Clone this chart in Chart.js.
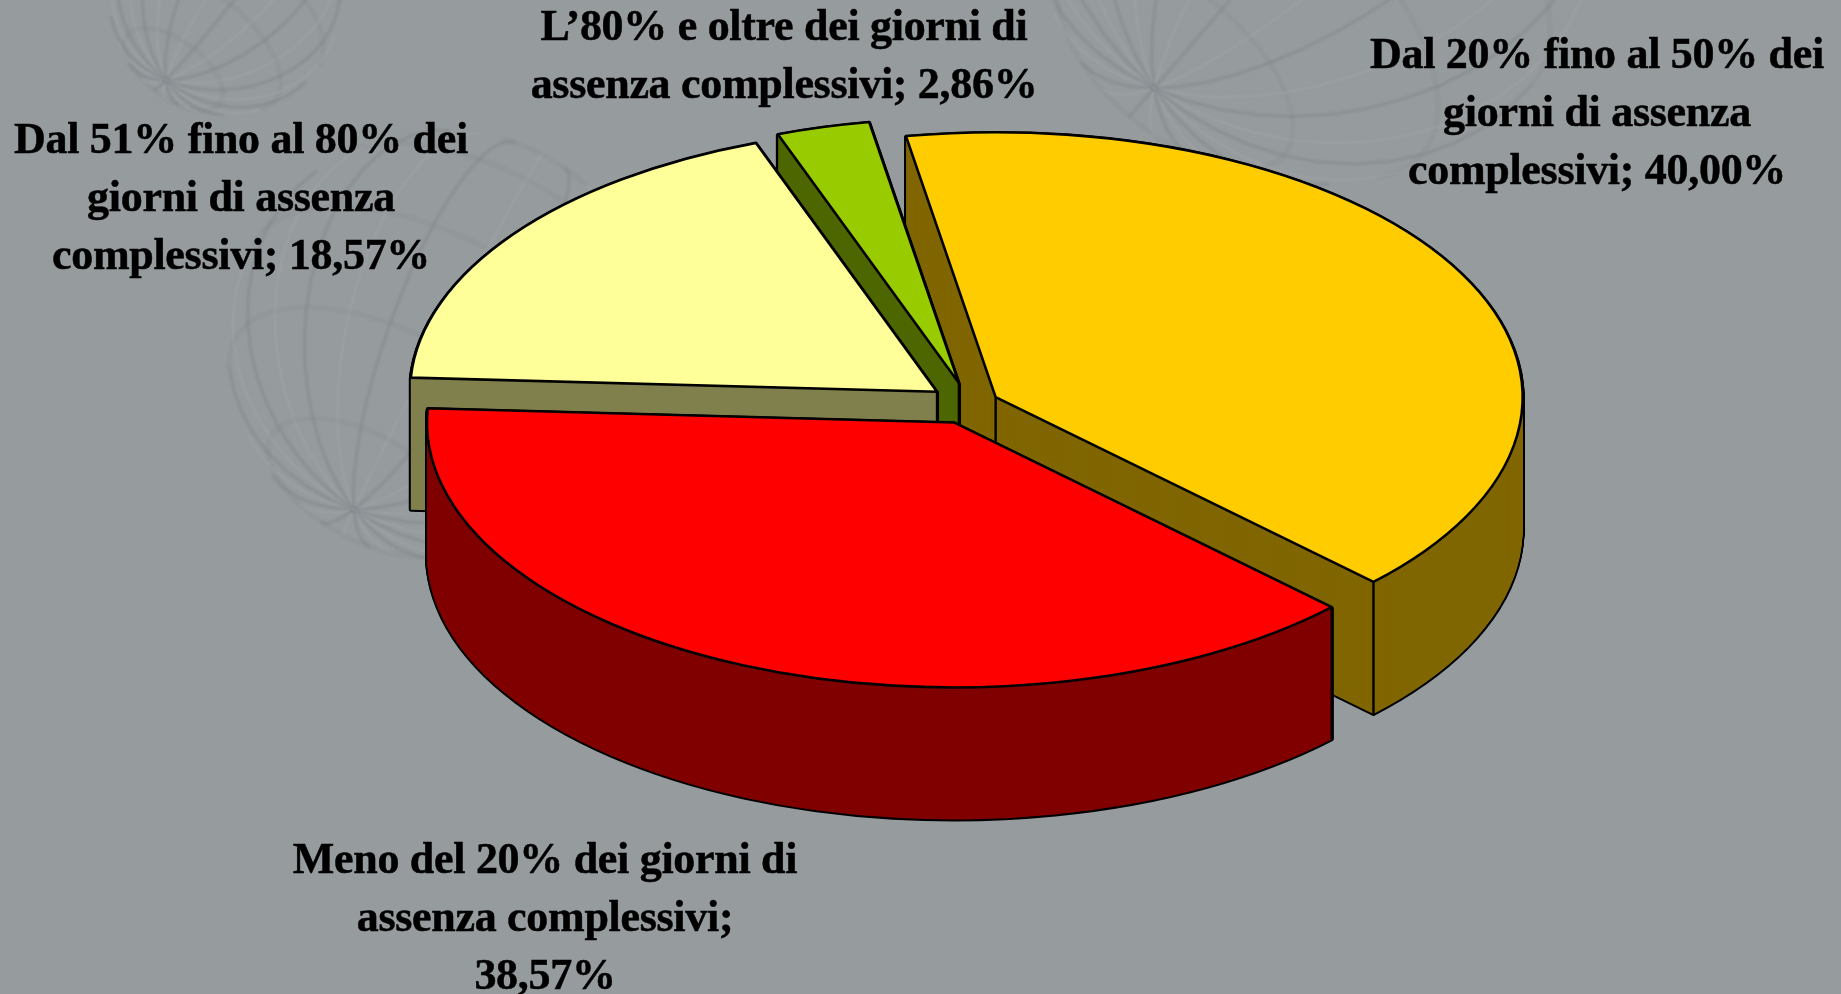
<!DOCTYPE html>
<html>
<head>
<meta charset="utf-8">
<title>Giorni di assenza</title>
<script src="https://cdn.jsdelivr.net/npm/chart.js@4"></script>
<style>
  html, body { margin: 0; padding: 0; background: #969b9e; overflow: hidden; }
  canvas { display: block; }
</style>
</head>
<body>
<canvas id="myChart" width="1841" height="994"></canvas>
<script>
// Chart data, clockwise from the top
const categories = [
    'Dal 20% fino al 50% dei giorni di assenza complessivi',
    'Meno del 20% dei giorni di assenza complessivi',
    'Dal 51% fino al 80% dei giorni di assenza complessivi',
    "L'80% e oltre dei giorni di assenza complessivi"
];
const values = [40.00, 38.57, 18.57, 2.86];
const topColors = ['#ffcc00', '#ff0000', '#ffff99', '#99cc00'];
const sideColors = ['#806600', '#800000', '#80804d', '#4d6600'];
const explode = [29, 40, 41, 43]; // how far each slice is pulled out

const labelLines = [
    ['Dal 20% fino al 50% dei', 'giorni di assenza', 'complessivi; 40,00%'],
    ['Meno del 20% dei giorni di', 'assenza complessivi;', '38,57%'],
    ['Dal 51% fino al 80% dei', 'giorni di assenza', 'complessivi; 18,57%'],
    ['L\u201980% e oltre dei giorni di', 'assenza complessivi; 2,86%']
];
const labelCenterX = [1597, 545, 241, 784];
const labelFirstBaseline = [68, 873, 153, 40];

// 3D look of the pie
const RX = 527;
const RY = 265;
const DEPTH = 132;
const DRAW_ORDER = [0, 3, 2, 1]; // back to front

// faint wireframe balls behind the chart: x, y, radius, tilt
const globes = [
    [225, 0, 115, 0.8],
    [443, 345, 215, 0.7],
    [1315, -100, 285, 0.85]
];

function sphereLine(ctx, x, y, r, tilt, pointAt) {
    ctx.beginPath();
    let pen = false;
    for (let t = 0; t <= 48; t++) {
        const p = pointAt(t / 48 * Math.PI * 2);
        // tilt the ball, then keep only the side facing us
        const y1 = p[1] * Math.cos(tilt) - p[2] * Math.sin(tilt);
        const z1 = p[1] * Math.sin(tilt) + p[2] * Math.cos(tilt);
        const x2 = p[0] * Math.cos(tilt) - z1 * Math.sin(tilt);
        const z2 = p[0] * Math.sin(tilt) + z1 * Math.cos(tilt);
        if (z2 < -0.05) { pen = false; continue; }
        if (pen) ctx.lineTo(x + x2 * r, y + y1 * r);
        else ctx.moveTo(x + x2 * r, y + y1 * r);
        pen = true;
    }
    ctx.stroke();
}

function drawGlobe(ctx, globe, stroke, width, shift) {
    const [x, y, r, tilt] = globe;
    ctx.strokeStyle = stroke;
    ctx.lineWidth = width;
    for (let lat = -60; lat <= 60; lat += 30) {
        const a = lat * Math.PI / 180;
        sphereLine(ctx, x, y, r, tilt, t => [Math.cos(a) * Math.cos(t), Math.sin(a), Math.cos(a) * Math.sin(t)]);
    }
    for (let lon = shift; lon < 180 + shift; lon += 30) {
        const b = lon * Math.PI / 180;
        sphereLine(ctx, x, y, r, tilt, t => [Math.cos(t) * Math.cos(b), Math.sin(t), Math.cos(t) * Math.sin(b)]);
    }
}

const backgroundPlugin = {
    id: 'background',
    beforeDraw(chart) {
        const ctx = chart.ctx;
        ctx.save();
        ctx.fillStyle = '#969b9e';
        ctx.fillRect(0, 0, chart.width, chart.height);
        ctx.filter = 'blur(1px)';
        globes.forEach(g => {
            drawGlobe(ctx, g, 'rgba(70,75,80,0.13)', 3, 0);
            drawGlobe(ctx, g, 'rgba(225,230,235,0.10)', 2, 14);
        });
        ctx.restore();
    }
};

// Draws one arc through its own draw() but squashed into an ellipse
function paintArc(ctx, arc, i, drop, color, borderColor, borderWidth) {
    const mid = (arc.startAngle + arc.endAngle) / 2;
    const sx = RX / arc.outerRadius;
    const sy = RY / arc.outerRadius;
    const saved = arc.options;
    arc.options = Object.assign(Object.create(saved), {
        backgroundColor: color,
        borderColor: borderColor,
        borderWidth: borderWidth,
        borderJoinStyle: 'round'
    });
    ctx.save();
    ctx.translate(arc.x + Math.cos(mid) * explode[i], arc.y + Math.sin(mid) * explode[i] * sy / sx + drop);
    ctx.scale(sx, sy);
    ctx.translate(-arc.x, -arc.y);
    arc.draw(ctx);
    ctx.restore();
    arc.options = saved;
}

// Vertical edges of the walls: the centre, and rim ends on the front half
function drawEdges(ctx, arc, i) {
    const mid = (arc.startAngle + arc.endAngle) / 2;
    const cx = arc.x + Math.cos(mid) * explode[i];
    const cy = arc.y + Math.sin(mid) * explode[i] * RY / RX;
    const corners = [[cx, cy]];
    [arc.startAngle, arc.endAngle].forEach(a => {
        if (Math.sin(a) > 0) corners.push([cx + Math.cos(a) * RX, cy + Math.sin(a) * RY]);
    });
    ctx.strokeStyle = '#000';
    ctx.lineWidth = 2.4;
    corners.forEach(c => {
        ctx.beginPath();
        ctx.moveTo(c[0], c[1]);
        ctx.lineTo(c[0], c[1] + DEPTH);
        ctx.stroke();
    });
}

const pie3dPlugin = {
    id: 'pie3d',
    beforeDatasetsDraw(chart) {
        const ctx = chart.ctx;
        const arcs = chart.getDatasetMeta(0).data;
        // keep line width even although the drawing is squashed
        const rawStroke = ctx.stroke;
        ctx.stroke = function () {
            this.save();
            this.setTransform(1, 0, 0, 1, 0, 0);
            rawStroke.call(this);
            this.restore();
        };
        DRAW_ORDER.forEach(i => {
            const arc = arcs[i];
            for (let y = DEPTH; y > 0; y--) paintArc(ctx, arc, i, y, '#000', '#000', 4);
            for (let y = DEPTH; y > 0; y--) paintArc(ctx, arc, i, y, sideColors[i], sideColors[i], 0);
            drawEdges(ctx, arc, i);
            paintArc(ctx, arc, i, 0, topColors[i], '#000', 2.6);
        });
        delete ctx.stroke;
        return false; // the default flat pie is not wanted
    },
    afterDraw(chart) {
        const ctx = chart.ctx;
        ctx.save();
        ctx.font = 'bold 44px "Liberation Serif"';
        ctx.letterSpacing = '-0.3px';
        ctx.fillStyle = '#000';
        ctx.strokeStyle = '#000';
        ctx.lineWidth = 0.5;
        ctx.textAlign = 'center';
        ctx.textBaseline = 'alphabetic';
        labelLines.forEach((lines, i) => {
            lines.forEach((line, n) => {
                const y = labelFirstBaseline[i] + n * 58;
                ctx.fillText(line, labelCenterX[i], y);
                ctx.strokeText(line, labelCenterX[i], y);
            });
        });
        ctx.restore();
    }
};

new Chart(document.getElementById('myChart').getContext('2d'), {
    type: 'pie',
    data: {
        labels: categories,
        datasets: [{
            data: values,
            backgroundColor: topColors,
            borderColor: '#000',
            borderWidth: 0
        }]
    },
    options: {
        responsive: false,
        animation: false,
        rotation: -9.8,
        // leaves the pie centre at 970,404
        layout: { padding: { left: 99, right: 0, top: 0, bottom: 186 } },
        plugins: {
            legend: { display: false },
            tooltip: { enabled: false }
        }
    },
    plugins: [backgroundPlugin, pie3dPlugin]
});
</script>
</body>
</html>
